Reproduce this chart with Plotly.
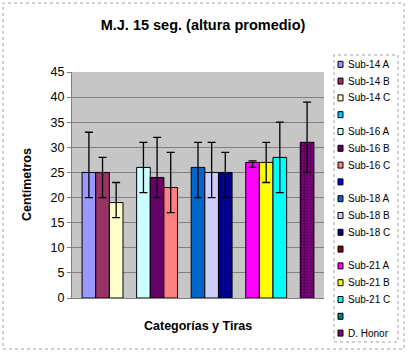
import plotly.graph_objects as go

# ---- data ----
series_names = ["Sub-14 A", "Sub-14 B", "Sub-14 C", "",
                "Sub-16 A", "Sub-16 B", "Sub-16 C", "",
                "Sub-18 A", "Sub-18 B", "Sub-18 C", "",
                "Sub-21 A", "Sub-21 B", "Sub-21 C", "",
                "D. Honor"]
values = [25, 25, 19, None,
          26, 24, 22, None,
          26, 25, 25, None,
          27, 27, 28, None,
          31]
err_high = [33, 28, 23, None,
            31, 32, 29, None,
            31, 31, 29, None,
            27.3, 31, 35, None,
            39]
err_low = [20, 20, 16, None,
           21, 20, 17, None,
           20, 20, 20, None,
           26, 23, 21, None,
           25]
colors = ["#9999FF", "#993366", "#FFFFCC", "#00CCFF",
          "#CCFFFF", "#660066", "#FF8080", "#0000FF",
          "#0066CC", "#CCCCFF", "#000080", "#800000",
          "#FF00FF", "#FFFF00", "#00FFFF", "#008080",
          "#800080"]
patterned = [False, False, False, False,
             False, False, False, False,
             False, False, True, False,
             False, False, False, True,
             True]
y_ticks = [0, 5, 10, 15, 20, 25, 30, 35, 40, 45]

W, H = 408, 353
PL, PR, PT, PB = 72, 324, 72, 298
FONT = "Arial, Liberation Sans, sans-serif"

def px(x):
    return (x - PL) / (PR - PL)

def py(y):
    return (PB - y) / (PB - PT)

fig = go.Figure()
for i, name in enumerate(series_names):
    v = values[i]
    kw = {}
    if v is not None:
        kw["error_y"] = dict(type="data", symmetric=False,
                             array=[err_high[i] - v], arrayminus=[v - err_low[i]],
                             color="black", thickness=1.3, width=4)
    marker = dict(color=colors[i], line=dict(color="black", width=1))
    if patterned[i]:
        marker["pattern"] = dict(shape=".", fgcolor="#000000" if colors[i] != "#000080" else "#0000CC",
                                 size=3, solidity=0.3, fillmode="overlay")
    fig.add_trace(go.Bar(x=[""], y=[v], name=name or " ", marker=marker,
                         showlegend=False, hoverinfo="skip", **kw))

shapes = []
annotations = []

# outer chart frame
shapes.append(dict(type="rect", xref="paper", yref="paper",
                   x0=px(3), x1=px(404), y0=py(349), y1=py(3),
                   line=dict(color="#A0A0A0", width=1, dash="dot"), layer="below"))

# custom legend box
shapes.append(dict(type="rect", xref="paper", yref="paper",
                   x0=px(334), x1=px(398), y0=py(342), y1=py(55),
                   line=dict(color="#A0A0A0", width=1, dash="dot")))
for i, name in enumerate(series_names):
    cy = 64.3 + i * 16.8
    shapes.append(dict(type="rect", xref="paper", yref="paper",
                       x0=px(338), x1=px(343), y0=py(cy + 3), y1=py(cy - 3),
                       fillcolor=colors[i], line=dict(color="black", width=1)))
    if name:
        annotations.append(dict(text=name, xref="paper", yref="paper",
                                x=px(346), y=py(cy), xanchor="left", yanchor="middle",
                                showarrow=False, font=dict(family=FONT, size=10, color="black")))

annotations.append(dict(text="<b>Centímetros</b>", xref="paper", yref="paper",
                        x=px(27), y=py(185), textangle=-90, showarrow=False,
                        xanchor="center", yanchor="middle",
                        font=dict(family=FONT, size=12.5, color="black")))
annotations.append(dict(text="<b>Categorías y Tiras</b>", xref="paper", yref="paper",
                        x=px(198), y=py(326), showarrow=False,
                        xanchor="center", yanchor="middle",
                        font=dict(family=FONT, size=12.5, color="black")))

fig.update_layout(
    width=W, height=H,
    margin=dict(l=PL, r=W - PR, t=PT, b=H - PB, pad=0),
    paper_bgcolor="white",
    plot_bgcolor="#C6C6C6",
    barmode="group",
    bargap=0.08,
    bargroupgap=0,
    showlegend=False,
    title=dict(text="<b>M.J. 15 seg. (altura promedio)</b>", x=203 / W, xref="container",
               xanchor="center", y=1 - 25 / H, yanchor="middle", yref="container",
               font=dict(family=FONT, size=14.5, color="black")),
    font=dict(family=FONT, color="black"),
    shapes=shapes,
    annotations=annotations,
)
fig.update_xaxes(showticklabels=False, showgrid=False, zeroline=False,
                 showline=True, linecolor="#808080", linewidth=1, mirror=False,
                 ticks="")
fig.update_yaxes(range=[0, 45], tickvals=y_ticks, ticktext=[str(t) for t in y_ticks],
                 showgrid=True, gridcolor="#808080", gridwidth=1, zeroline=False,
                 showline=True, linecolor="#808080", linewidth=1,
                 ticks="outside", ticklen=4, tickcolor="#808080",
                 tickfont=dict(family=FONT, size=12.5, color="black"))

fig.write_html("out.html")
